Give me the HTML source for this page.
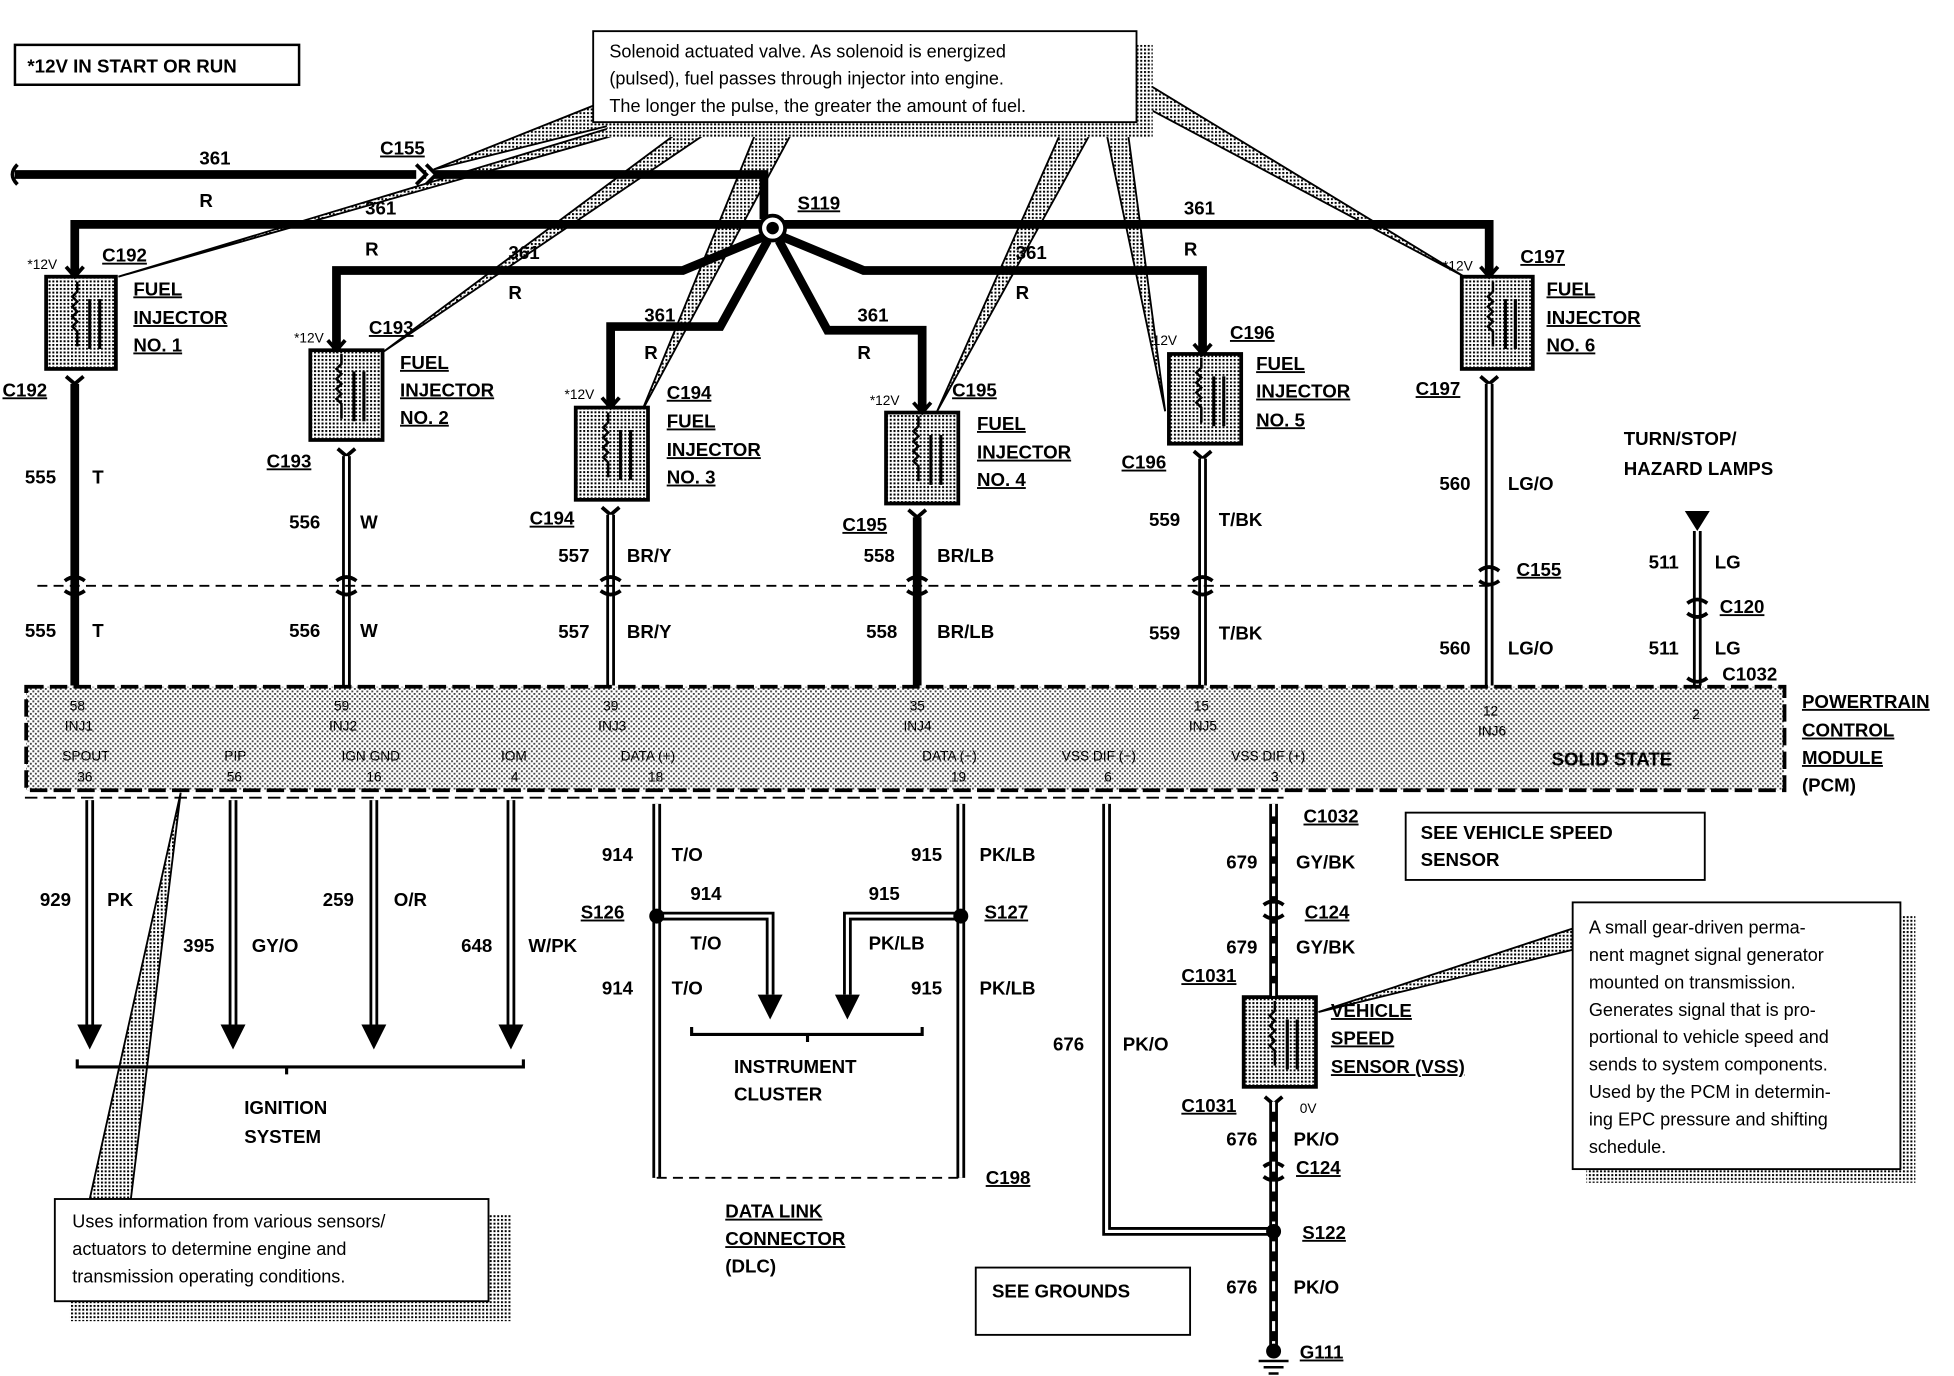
<!DOCTYPE html>
<html><head><meta charset="utf-8"><style>
html,body{margin:0;padding:0;background:#fff;}
svg{display:block}
text{font-family:"Liberation Sans",Arial,sans-serif;font-weight:bold;font-size:15px;fill:#000}
.u{text-decoration:underline}
.s{font-size:11px;font-weight:normal}
.n{font-weight:normal;font-size:14.5px}
.w{stroke:#000;stroke-width:7;fill:none}
.st{stroke:#fff;stroke-width:2.5;fill:none}
.ch{stroke:#000;stroke-width:3;fill:none}
</style></head><body>
<svg width="1954" height="1376" viewBox="0 0 1568 1104" preserveAspectRatio="none" xmlns="http://www.w3.org/2000/svg">
<defs>
<pattern id="dots" width="3" height="3" patternUnits="userSpaceOnUse"><rect width="3" height="3" fill="#fff"/><rect width="1.6" height="1.6" fill="#000"/></pattern>
<pattern id="dots2" width="4" height="4" patternUnits="userSpaceOnUse"><rect width="4" height="4" fill="#fff"/><rect width="1.5" height="1.5" fill="#444"/><rect x="2" y="2" width="1.5" height="1.5" fill="#444"/></pattern>
<path id="coil" d="M0,0 v8 l-4,4 l4,4 l-4,4 l4,4 l-4,4 l4,4 l-4,4 l4,4 v12" stroke="#000" stroke-width="2" fill="none"/>
</defs>
<rect width="1568" height="1104" fill="#fff"/>

<rect x="12" y="36" width="228" height="32" fill="#fff" stroke="#000" stroke-width="2"/>
<text x="22" y="58">*12V IN START OR RUN</text>

<g fill="url(#dots)" stroke="#000" stroke-width="1.5">
<polygon points="348,136 478,84 500,98"/>
<polygon points="95,222 505,98 530,98"/>
<polygon points="308,282 555,98 580,98"/>
<polygon points="515,330 610,98 640,98"/>
<polygon points="752,330 855,98 880,98"/>
<polygon points="935,330 886,98 904,98"/>
<polygon points="1175,222 912,62 912,82"/>
<polygon points="1058,812 1262,745 1262,762"/>
<polygon points="145,636 72,962 105,962"/>
</g>

<rect x="487" y="36" width="438" height="74" fill="url(#dots)"/>
<rect x="476" y="25" width="436" height="73" fill="#fff" stroke="#000" stroke-width="1.5"/>
<text class="n" x="489" y="46">Solenoid actuated valve.  As solenoid is energized</text>
<text class="n" x="489" y="68">(pulsed), fuel passes through injector into engine.</text>
<text class="n" x="489" y="90">The longer the pulse, the greater the amount of fuel.</text>

<path class="w" d="M12,140 H613 V176"/>
<path d="M14,132 q-8,8 0,16" stroke="#000" stroke-width="3" fill="none"/>
<path d="M334,132 l8,8 l-8,8 M342,132 l8,8 l-8,8" stroke="#000" stroke-width="3" fill="#fff"/>
<text x="160" y="132">361</text><text x="160" y="166">R</text>
<text class="u" x="305" y="124">C155</text>
<path class="w" d="M60,222 V180 H612 M628,180 H1195 V222"/>
<circle cx="620" cy="183" r="10" fill="#fff" stroke="#000" stroke-width="3"/>
<circle cx="620" cy="183" r="5" fill="#000"/>
<text class="u" x="640" y="168">S119</text>
<text x="293" y="172">361</text><text x="293" y="205">R</text>
<text x="950" y="172">361</text><text x="950" y="205">R</text>
<path class="w" d="M270,281 V217 H548 L613,190"/>
<text x="408" y="208">361</text><text x="408" y="240">R</text>
<path class="w" d="M490,327 V262 H578 L616,193"/>
<text x="517" y="258">361</text><text x="517" y="288">R</text>
<path class="w" d="M740,331 V265 H664 L625,193"/>
<text x="688" y="258">361</text><text x="688" y="288">R</text>
<path class="w" d="M965,284 V217 H693 L628,190"/>
<text x="815" y="208">361</text><text x="815" y="240">R</text>

<g stroke="#000" stroke-width="3">
<rect x="37" y="222" width="56" height="74" fill="url(#dots)"/>
<rect x="249" y="281" width="58" height="72" fill="url(#dots)"/>
<rect x="462" y="327" width="58" height="74" fill="url(#dots)"/>
<rect x="711" y="331" width="58" height="73" fill="url(#dots)"/>
<rect x="938" y="284" width="58" height="72" fill="url(#dots)"/>
<rect x="1173" y="222" width="57" height="74" fill="url(#dots)"/>
<rect x="998" y="800" width="58" height="72" fill="url(#dots)"/>
</g>
<use href="#coil" x="62" y="226"/><use href="#coil" x="274" y="284"/><use href="#coil" x="488" y="331"/>
<use href="#coil" x="737" y="334"/><use href="#coil" x="964" y="287"/><use href="#coil" x="1198" y="226"/><use href="#coil" x="1023" y="803"/>
<g stroke="#000" stroke-width="2.5" fill="none">
<path d="M72,240 v40 M80,240 v40"/>
<path d="M284,298 v40 M292,298 v40"/>
<path d="M498,345 v40 M506,345 v40"/>
<path d="M747,349 v40 M755,349 v40"/>
<path d="M974,302 v40 M982,302 v40"/>
<path d="M1208,240 v40 M1216,240 v40"/>
<path d="M1033,818 v40 M1041,818 v40"/>
</g>
<g class="ch">
<path d="M53,214 l7,8 l7,-8"/><path d="M263,273 l7,8 l7,-8"/><path d="M483,319 l7,8 l7,-8"/>
<path d="M733,323 l7,8 l7,-8"/><path d="M958,276 l7,8 l7,-8"/><path d="M1188,214 l7,8 l7,-8"/>
<path d="M53,302 l7,6 l7,-6"/><path d="M271,360 l7,6 l7,-6"/><path d="M483,407 l7,6 l7,-6"/>
<path d="M729,409 l7,6 l7,-6"/><path d="M958,362 l7,6 l7,-6"/><path d="M1188,302 l7,6 l7,-6"/>
<path d="M1015,880 l7,6 l7,-6"/>
</g>
<text class="s" x="22" y="216">*12V</text><text class="u" x="82" y="210">C192</text>
<text class="u" x="107" y="237">FUEL</text><text class="u" x="107" y="260">INJECTOR</text><text class="u" x="107" y="282">NO. 1</text>
<text class="s" x="236" y="275">*12V</text><text class="u" x="296" y="268">C193</text>
<text class="u" x="321" y="296">FUEL</text><text class="u" x="321" y="318">INJECTOR</text><text class="u" x="321" y="340">NO. 2</text>
<text class="s" x="453" y="320">*12V</text>
<text class="u" x="535" y="320">C194</text><text class="u" x="535" y="343">FUEL</text><text class="u" x="535" y="366">INJECTOR</text><text class="u" x="535" y="388">NO. 3</text>
<text class="s" x="698" y="325">*12V</text><text class="u" x="764" y="318">C195</text>
<text class="u" x="784" y="345">FUEL</text><text class="u" x="784" y="368">INJECTOR</text><text class="u" x="784" y="390">NO. 4</text>
<text class="s" x="925" y="277">12V</text><text class="u" x="987" y="272">C196</text>
<text class="u" x="1008" y="297">FUEL</text><text class="u" x="1008" y="319">INJECTOR</text><text class="u" x="1008" y="342">NO. 5</text>
<text class="s" x="1158" y="217">*12V</text><text class="u" x="1220" y="211">C197</text>
<text class="u" x="1241" y="237">FUEL</text><text class="u" x="1241" y="260">INJECTOR</text><text class="u" x="1241" y="282">NO. 6</text>

<path class="w" d="M60,308 V550"/>
<path class="w" d="M278,366 V550"/><path class="st" d="M278,366 V550"/>
<path class="w" d="M490,413 V550"/><path class="st" d="M490,413 V550"/>
<path class="w" d="M736,415 V550"/>
<path class="w" d="M965,368 V550"/><path class="st" d="M965,368 V550"/>
<path class="w" d="M1195,308 V550"/><path class="st" d="M1195,308 V550"/>
<path class="w" d="M1362,426 V550"/><path class="st" d="M1362,426 V550"/>
<polygon points="1352,410 1372,410 1362,426" fill="#000"/>
<path d="M30,470 H1200" stroke="#000" stroke-width="1.5" stroke-dasharray="8 5"/>
<g class="ch"><path d="M52,466 q8,-6 16,0 M52,474 q8,6 16,0"/><path d="M270,466 q8,-6 16,0 M270,474 q8,6 16,0"/>
<path d="M482,466 q8,-6 16,0 M482,474 q8,6 16,0"/><path d="M728,466 q8,-6 16,0 M728,474 q8,6 16,0"/>
<path d="M957,466 q8,-6 16,0 M957,474 q8,6 16,0"/><path d="M1187,458 q8,-6 16,0 M1187,466 q8,6 16,0"/>
<path d="M1354,484 q8,-6 16,0 M1354,492 q8,6 16,0"/><path d="M1354,544 q8,6 16,0"/>
<path d="M1014,726 q8,-6 16,0 M1014,734 q8,6 16,0"/><path d="M1014,936 q8,-6 16,0 M1014,944 q8,6 16,0"/></g>
<text x="20" y="388">555</text><text x="74" y="388">T</text><text x="20" y="511">555</text><text x="74" y="511">T</text>
<text class="u" x="2" y="318">C192</text>
<text class="u" x="214" y="375">C193</text><text x="232" y="424">556</text><text x="289" y="424">W</text><text x="232" y="511">556</text><text x="289" y="511">W</text>
<text class="u" x="425" y="421">C194</text><text x="448" y="451">557</text><text x="503" y="451">BR/Y</text><text x="448" y="512">557</text><text x="503" y="512">BR/Y</text>
<text class="u" x="676" y="426">C195</text><text x="693" y="451">558</text><text x="752" y="451">BR/LB</text><text x="695" y="512">558</text><text x="752" y="512">BR/LB</text>
<text class="u" x="900" y="376">C196</text><text x="922" y="422">559</text><text x="978" y="422">T/BK</text><text x="922" y="513">559</text><text x="978" y="513">T/BK</text>
<text class="u" x="1136" y="317">C197</text><text x="1155" y="393">560</text><text x="1210" y="393">LG/O</text>
<text class="u" x="1217" y="462">C155</text><text x="1155" y="525">560</text><text x="1210" y="525">LG/O</text>
<text x="1303" y="357">TURN/STOP/</text><text x="1303" y="381">HAZARD LAMPS</text>
<text x="1323" y="456">511</text><text x="1376" y="456">LG</text><text class="u" x="1380" y="492">C120</text>
<text x="1323" y="525">511</text><text x="1376" y="525">LG</text><text x="1382" y="546">C1032</text>

<rect x="21" y="551" width="1411" height="83" fill="url(#dots2)" stroke="#000" stroke-width="3" stroke-dasharray="14 5"/>
<text class="s" x="56" y="570">58</text><text class="s" x="52" y="586">INJ1</text>
<text class="s" x="268" y="570">59</text><text class="s" x="264" y="586">INJ2</text>
<text class="s" x="484" y="570">39</text><text class="s" x="480" y="586">INJ3</text>
<text class="s" x="730" y="570">35</text><text class="s" x="725" y="586">INJ4</text>
<text class="s" x="958" y="570">15</text><text class="s" x="954" y="586">INJ5</text>
<text class="s" x="1190" y="574">12</text><text class="s" x="1186" y="590">INJ6</text>
<text class="s" x="1358" y="577">2</text>
<text class="s" x="50" y="610">SPOUT</text><text class="s" x="62" y="627">36</text>
<text class="s" x="180" y="610">PIP</text><text class="s" x="182" y="627">56</text>
<text class="s" x="274" y="610">IGN GND</text><text class="s" x="294" y="627">16</text>
<text class="s" x="402" y="610">IOM</text><text class="s" x="410" y="627">4</text>
<text class="s" x="498" y="610">DATA (+)</text><text class="s" x="520" y="627">18</text>
<text class="s" x="740" y="610">DATA (−)</text><text class="s" x="763" y="627">19</text>
<text class="s" x="852" y="610">VSS DIF (−)</text><text class="s" x="886" y="627">6</text>
<text class="s" x="988" y="610">VSS DIF (+)</text><text class="s" x="1020" y="627">3</text>
<text x="1245" y="614">SOLID STATE</text>
<text class="u" x="1446" y="568">POWERTRAIN</text><text class="u" x="1446" y="591">CONTROL</text><text class="u" x="1446" y="613">MODULE</text><text x="1446" y="635">(PCM)</text>
<path d="M20,640 H1030" stroke="#000" stroke-width="1.5" stroke-dasharray="10 5"/>

<path class="w" d="M72,642 V822"/><path class="st" d="M72,642 V822"/>
<path class="w" d="M187,642 V822"/><path class="st" d="M187,642 V822"/>
<path class="w" d="M300,642 V822"/><path class="st" d="M300,642 V822"/>
<path class="w" d="M410,642 V822"/><path class="st" d="M410,642 V822"/>
<polygon points="62,822 82,822 72,842" fill="#000"/><polygon points="177,822 197,822 187,842" fill="#000"/>
<polygon points="290,822 310,822 300,842" fill="#000"/><polygon points="400,822 420,822 410,842" fill="#000"/>
<text x="32" y="727">929</text><text x="86" y="727">PK</text>
<text x="147" y="764">395</text><text x="202" y="764">GY/O</text>
<text x="259" y="727">259</text><text x="316" y="727">O/R</text>
<text x="370" y="764">648</text><text x="424" y="764">W/PK</text>
<path d="M62,850 v6 H420 v-6 M230,856 v6" stroke="#000" stroke-width="2.5" fill="none"/>
<text x="196" y="894">IGNITION</text><text x="196" y="917">SYSTEM</text>

<path class="w" d="M527,645 V945"/><path class="st" d="M527,645 V945"/>
<path class="w" d="M771,645 V945"/><path class="st" d="M771,645 V945"/>
<path class="w" d="M527,735 H618 V798"/><path class="st" d="M527,735 H618 V798"/>
<path class="w" d="M771,735 H680 V798"/><path class="st" d="M771,735 H680 V798"/>
<polygon points="608,798 628,798 618,818" fill="#000"/><polygon points="670,798 690,798 680,818" fill="#000"/>
<circle cx="527" cy="735" r="6" fill="#000"/><circle cx="771" cy="735" r="6" fill="#000"/>
<text x="483" y="691">914</text><text x="539" y="691">T/O</text>
<text class="u" x="466" y="737">S126</text><text x="554" y="722">914</text><text x="554" y="762">T/O</text>
<text x="483" y="798">914</text><text x="539" y="798">T/O</text>
<text x="731" y="691">915</text><text x="786" y="691">PK/LB</text>
<text class="u" x="790" y="737">S127</text><text x="697" y="722">915</text><text x="697" y="762">PK/LB</text>
<text x="731" y="798">915</text><text x="786" y="798">PK/LB</text>
<path d="M555,824 v6 H740 v-6 M648,830 v6" stroke="#000" stroke-width="2.5" fill="none"/>
<text x="589" y="861">INSTRUMENT</text><text x="589" y="883">CLUSTER</text>
<path d="M527,945 H771" stroke="#000" stroke-width="1.5" stroke-dasharray="8 5"/>
<text class="u" x="791" y="950">C198</text>
<text class="u" x="582" y="977">DATA LINK</text><text class="u" x="582" y="999">CONNECTOR</text><text x="582" y="1021">(DLC)</text>

<path class="w" d="M888,645 V988 H1022"/><path class="st" d="M888,645 V988 H1022"/>
<text x="845" y="843">676</text><text x="901" y="843">PK/O</text>
<path class="w" d="M1022,645 V800"/><path class="st" d="M1022,645 V800" stroke-dasharray="10 6"/>
<path class="w" d="M1022,884 V1080"/><path class="st" d="M1022,884 V1080" stroke-dasharray="8 8"/>
<circle cx="1022" cy="988" r="6" fill="#000"/>
<circle cx="1022" cy="1084" r="6" fill="#000"/>
<path d="M1010,1092 h24 M1014,1097 h16 M1018,1102 h8" stroke="#000" stroke-width="2"/>
<text class="u" x="1046" y="660">C1032</text><text x="984" y="697">679</text><text x="1040" y="697">GY/BK</text>
<text class="u" x="1047" y="737">C124</text><text x="984" y="765">679</text><text x="1040" y="765">GY/BK</text>
<text class="u" x="948" y="788">C1031</text>
<text class="u" x="1068" y="816">VEHICLE</text><text class="u" x="1068" y="838">SPEED</text><text class="u" x="1068" y="861">SENSOR (VSS)</text>
<text class="u" x="948" y="892">C1031</text><text class="s" x="1043" y="893">0V</text>
<text x="984" y="919">676</text><text x="1038" y="919">PK/O</text><text class="u" x="1040" y="942">C124</text>
<text class="u" x="1045" y="994">S122</text><text x="984" y="1038">676</text><text x="1038" y="1038">PK/O</text>
<text class="u" x="1043" y="1090">G111</text>

<rect x="1128" y="652" width="240" height="54" fill="#fff" stroke="#000" stroke-width="1.5"/>
<text x="1140" y="673">SEE VEHICLE SPEED</text><text x="1140" y="695">SENSOR</text>

<rect x="1273" y="735" width="264" height="214" fill="url(#dots)"/>
<rect x="1262" y="724" width="263" height="214" fill="#fff" stroke="#000" stroke-width="1.5"/>
<text class="n" x="1275" y="749">A small gear-driven perma-</text>
<text class="n" x="1275" y="771">nent magnet signal generator</text>
<text class="n" x="1275" y="793">mounted on transmission.</text>
<text class="n" x="1275" y="815">Generates signal that is pro-</text>
<text class="n" x="1275" y="837">portional to vehicle speed and</text>
<text class="n" x="1275" y="859">sends to system components.</text>
<text class="n" x="1275" y="881">Used by the PCM in determin-</text>
<text class="n" x="1275" y="903">ing EPC pressure and shifting</text>
<text class="n" x="1275" y="925">schedule.</text>

<rect x="783" y="1017" width="172" height="54" fill="#fff" stroke="#000" stroke-width="1.5"/>
<text x="796" y="1041">SEE GROUNDS</text>

<rect x="56" y="974" width="354" height="86" fill="url(#dots)"/>
<rect x="44" y="962" width="348" height="82" fill="#fff" stroke="#000" stroke-width="1.5"/>
<text class="n" x="58" y="985">Uses information from various sensors/</text>
<text class="n" x="58" y="1007">actuators to determine engine and</text>
<text class="n" x="58" y="1029">transmission operating conditions.</text>
</svg>
</body></html>
